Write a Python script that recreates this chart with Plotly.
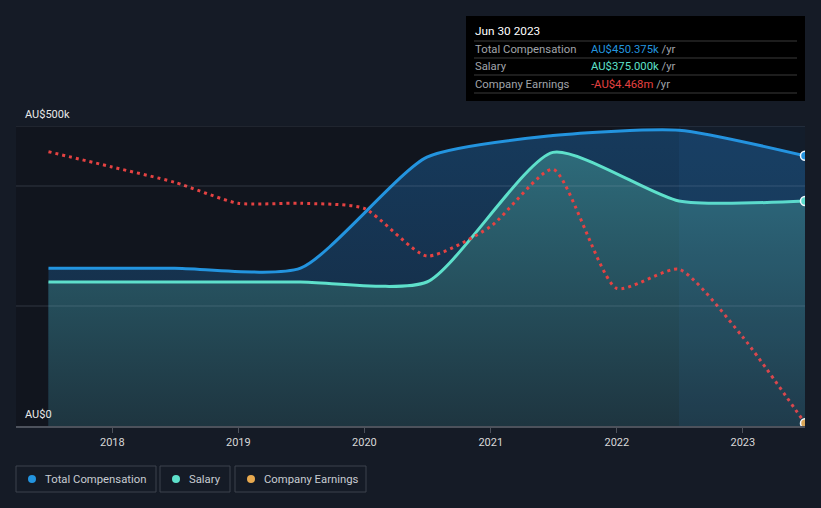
import plotly.graph_objects as go

# ---------------- data ----------------
comp_dates = ["2017-06-30", "2018-06-30", "2019-06-30", "2020-06-30",
              "2021-06-30", "2022-06-30", "2023-06-30"]
total_comp = [263000, 263000, 263000, 448000, 484000, 493000, 450375]
salary = [240000, 240000, 240000, 240000, 456000, 375000, 375000]

earn_dates = ["2017-06-30", "2017-12-31", "2018-06-30", "2018-12-31",
              "2019-06-30", "2019-12-31", "2020-06-30", "2020-12-31",
              "2021-06-30", "2021-12-31", "2022-06-30", "2022-12-31",
              "2023-06-30"]
earnings = [-1.073e6, -1.264e6, -1.455e6, -1.718e6, -1.718e6, -1.781e6,
            -2.377e6, -2.010e6, -1.293e6, -2.780e6, -2.543e6, -3.386e6,
            -4.468e6]

year_ticks = ["2018-01-01", "2019-01-01", "2020-01-01", "2021-01-01",
              "2022-01-01", "2023-01-01"]
year_labels = ["2018", "2019", "2020", "2021", "2022", "2023"]

# ---------------- style ----------------
BG = "#151b26"
PLOT_BG = "#11151e"
BLUE = "#2394df"
TEAL = "#5ee0cb"
RED = "#e54242"
ORANGE = "#e8a94f"
FONT = "Roboto, Arial, sans-serif"
SMOOTH = 0.6

W, H = 821, 508
L, R, T, B = 16, 805, 126, 426


def px(x):
    return (x - L) / (R - L)


def py(y):
    return (B - y) / (B - T)


fig = go.Figure()

fig.add_trace(go.Scatter(
    x=comp_dates, y=total_comp, mode="lines", name="Total Compensation",
    line=dict(color=BLUE, width=3, shape="spline", smoothing=SMOOTH),
    fill="tozeroy",
    fillgradient=dict(type="vertical", start=0, stop=500000,
                      colorscale=[[0, "#152a40"], [1, "#163a5c"]]),
    hoverinfo="skip",
))
fig.add_trace(go.Scatter(
    x=comp_dates, y=salary, mode="lines", name="Salary",
    line=dict(color=TEAL, width=3, shape="spline", smoothing=SMOOTH),
    fill="tozeroy",
    fillgradient=dict(type="vertical", start=0, stop=500000,
                      colorscale=[[0, "#1e3540"], [1, "#2f7080"]]),
    hoverinfo="skip",
))
fig.add_trace(go.Scatter(
    x=earn_dates, y=earnings, mode="lines", name="Company Earnings",
    yaxis="y2",
    line=dict(color=RED, width=3, shape="spline", smoothing=0.6,
              dash="3px,4px"),
    hoverinfo="skip",
))
# end markers
fig.add_trace(go.Scatter(
    x=[comp_dates[-1]], y=[total_comp[-1]], mode="markers", showlegend=False,
    marker=dict(color=BLUE, size=9, line=dict(color="white", width=1.5)),
    hoverinfo="skip"))
fig.add_trace(go.Scatter(
    x=[comp_dates[-1]], y=[salary[-1]], mode="markers", showlegend=False,
    marker=dict(color=TEAL, size=9, line=dict(color="white", width=1.5)),
    hoverinfo="skip"))
fig.add_trace(go.Scatter(
    x=[earn_dates[-1]], y=[earnings[-1]], mode="markers", showlegend=False,
    yaxis="y2",
    marker=dict(color=ORANGE, size=9, line=dict(color="white", width=1.5)),
    hoverinfo="skip"))

shapes = []
# last-year highlight
shapes.append(dict(type="rect", xref="x", yref="paper",
                   x0="2022-06-30", x1="2023-06-30", y0=0, y1=1,
                   fillcolor="rgba(60,140,220,0.07)", line=dict(width=0),
                   layer="above"))
# gridlines
for gv in [200000, 400000, 500000]:
    shapes.append(dict(type="line", xref="paper", yref="y", x0=0, x1=1,
                       y0=gv, y1=gv,
                       line=dict(color="rgba(190,200,220,0.18)", width=1),
                       layer="above"))

# tooltip box
shapes.append(dict(type="rect", xref="paper", yref="paper",
                   x0=px(466), x1=px(805), y0=py(101), y1=py(16),
                   fillcolor="#000000", line=dict(width=0), layer="above"))
for sy in [41, 58, 75, 93]:
    shapes.append(dict(type="line", xref="paper", yref="paper",
                       x0=px(474), x1=px(797), y0=py(sy), y1=py(sy),
                       line=dict(color="#3a3a3a", width=1), layer="above"))

annotations = []
annotations.append(dict(xref="paper", yref="paper", x=px(473), y=py(31),
                        xanchor="left", yanchor="middle", showarrow=False,
                        text="Jun 30 2023",
                        font=dict(family=FONT, size=11.8, color="#ffffff")))
rows = [("Total Compensation", "AU$450.375k", BLUE, 49),
        ("Salary", "AU$375.000k", TEAL, 66),
        ("Company Earnings", "-AU$4.468m", RED, 84)]
for label, val, col, ry in rows:
    annotations.append(dict(xref="paper", yref="paper", x=px(473), y=py(ry),
                            xanchor="left", yanchor="middle", showarrow=False,
                            text=label,
                            font=dict(family=FONT, size=11.3, color="#a0a4aa")))
    annotations.append(dict(xref="paper", yref="paper", x=px(589), y=py(ry),
                            xanchor="left", yanchor="middle", showarrow=False,
                            text=f"<span style='color:{col}'>{val}</span> /yr",
                            font=dict(family=FONT, size=11.3, color="#a0a4aa")))

# y labels
annotations.append(dict(xref="paper", yref="y", x=px(23), y=500000,
                        xanchor="left", yanchor="bottom", yshift=3,
                        showarrow=False, text="AU$500k",
                        font=dict(family=FONT, size=11, color="#e8e8e8")))
annotations.append(dict(xref="paper", yref="y", x=px(23), y=0,
                        xanchor="left", yanchor="bottom", yshift=3,
                        showarrow=False, text="AU$0",
                        font=dict(family=FONT, size=11, color="#e8e8e8")))

# legend boxes
legend_items = [("Total Compensation", BLUE, 16, 156),
                ("Salary", TEAL, 160, 230),
                ("Company Earnings", ORANGE, 235, 366)]
for name, col, x0, x1 in legend_items:
    shapes.append(dict(type="rect", xref="paper", yref="paper",
                       x0=px(x0), x1=px(x1), y0=py(492), y1=py(466),
                       fillcolor="rgba(0,0,0,0)",
                       line=dict(color="#3d424d", width=1), layer="above"))
    shapes.append(dict(type="circle", xref="paper", yref="paper",
                       x0=px(x0 + 12), x1=px(x0 + 20), y0=py(483), y1=py(475),
                       fillcolor=col, line=dict(width=0), layer="above"))
    annotations.append(dict(xref="paper", yref="paper", x=px(x0 + 27),
                            y=py(479), xanchor="left", yanchor="middle",
                            showarrow=False, text=name,
                            font=dict(family=FONT, size=11.3, color="#c8ccd2")))

fig.update_layout(
    width=W, height=H,
    margin=dict(l=L, r=W - R, t=T, b=H - B, pad=0),
    paper_bgcolor=BG, plot_bgcolor=PLOT_BG,
    showlegend=False,
    font=dict(family=FONT, color="#d8d8d8"),
    xaxis=dict(type="date", range=["2017-03-28", "2023-06-30"],
               tickvals=year_ticks, ticktext=year_labels,
               showgrid=False, zeroline=False,
               showline=True, linecolor="#4d525c", linewidth=1.5,
               ticks="outside", ticklen=5, tickcolor="#4d525c",
               tickfont=dict(family=FONT, size=11, color="#d8d8d8"),
               layer="above traces", fixedrange=True),
    yaxis=dict(range=[0, 500000], showgrid=False, zeroline=False,
               showticklabels=False, ticks="", fixedrange=True),
    yaxis2=dict(range=[-4.502e6, -0.752e6], overlaying="y", side="right",
                showgrid=False, zeroline=False, showticklabels=False,
                ticks="", fixedrange=True),
    shapes=shapes, annotations=annotations,
)

fig.write_html(
    "out.html",
    config={"displayModeBar": False},
    post_script="document.body.style.margin='0';"
                "document.body.style.background='" + BG + "';",
)
